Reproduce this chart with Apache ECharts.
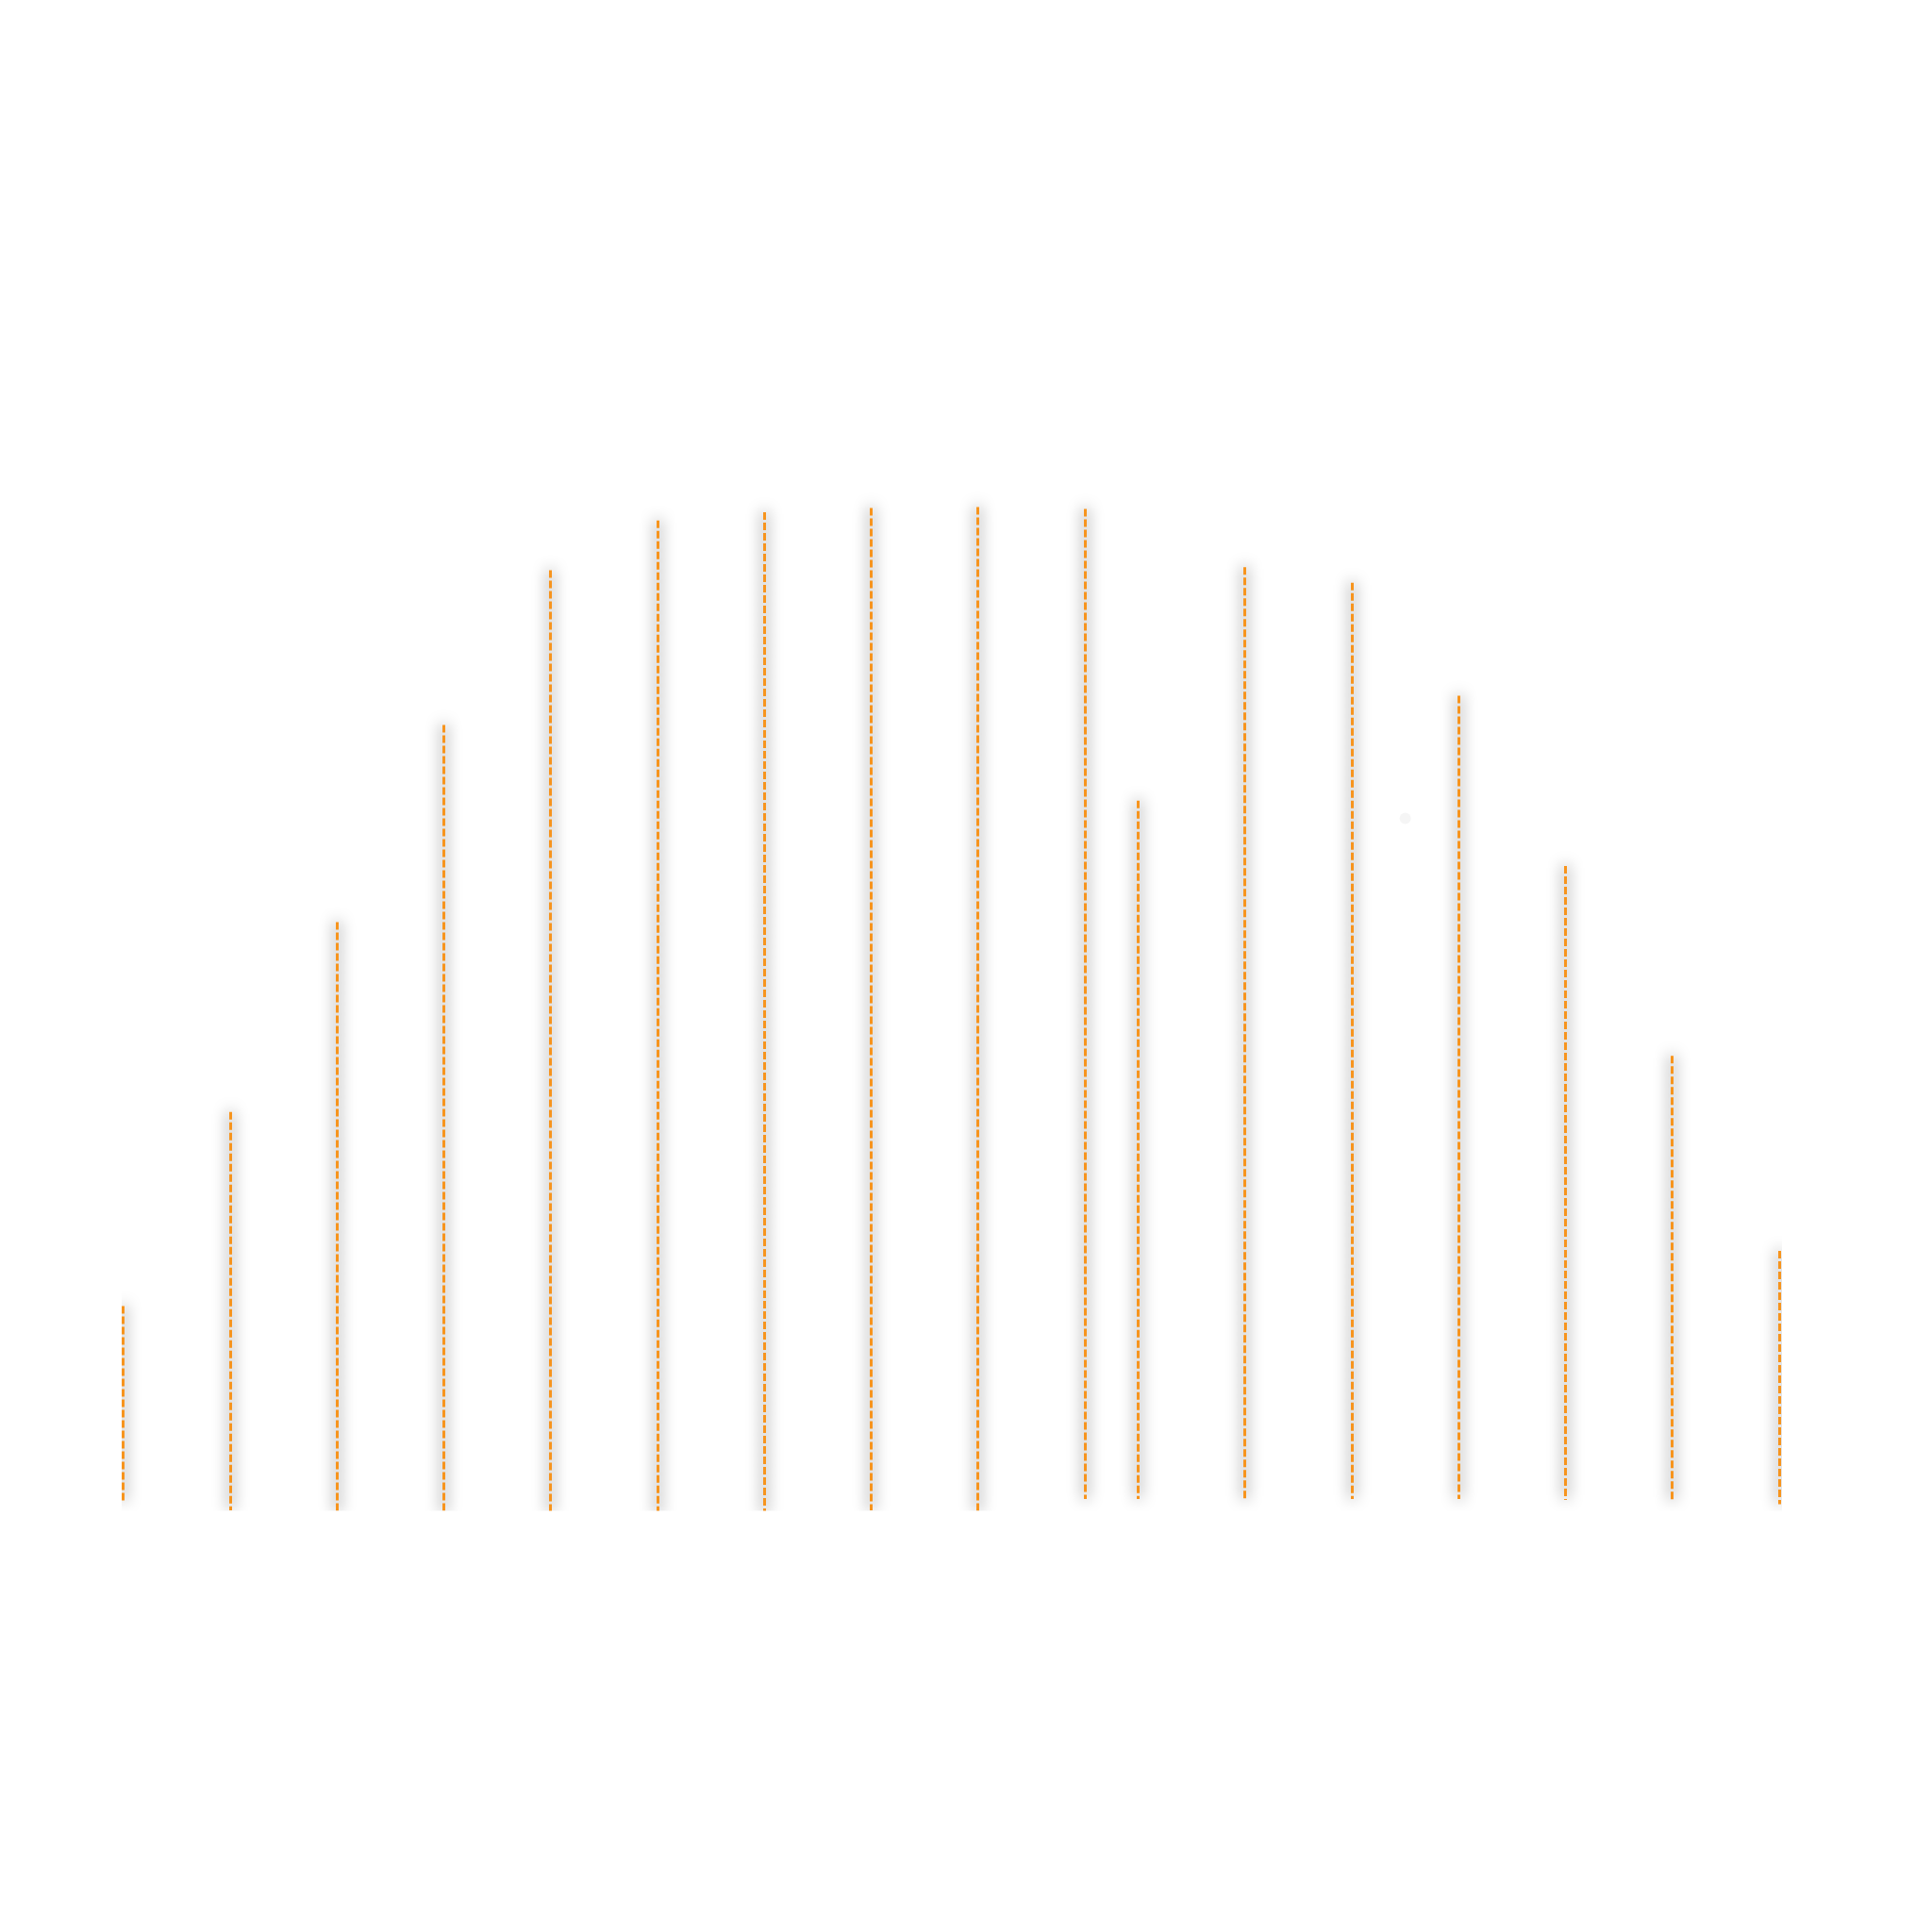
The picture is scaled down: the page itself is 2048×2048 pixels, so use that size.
<!DOCTYPE html>
<html lang="en">
<head>
    <meta charset="UTF-8">
    <title>Dashed lines</title>
    <script src="https://cdn.jsdelivr.net/npm/echarts@6/dist/echarts.min.js"></script>
    <style>
        html, body { margin: 0; padding: 0; background: #fff; }
    </style>
</head>
<body>
    <div id="main" style="width: 2048px;height:2048px;"></div>

    <script type="text/javascript">
        // positions on the x axis
        var xPos = [0, 1, 2, 3, 4, 5, 6, 7, 8, 9, 9.5, 10.5, 11.5, 12.5, 13.5, 14.5, 15.5];
        // top and bottom of every segment
        var yTop = [19.6, 38.3, 56.6, 75.6, 90.5, 95.3, 96.1, 96.5, 96.6, 96.4, 68.3, 90.8, 89.3, 78.4, 62.0, 43.7, 24.9];
        var yBottom = [0.6, -0.1, -0.3, -0.5, -0.5, -0.4, -0.4, -0.1, -0.2, 1.0, 1.0, 1.0, 1.0, 1.0, 0.9, 0.9, 0.5];
        // lone point (only its shadow shows)
        var dotX = [12];
        var dotY = [66.6];

        var segs = [];
        for (var i = 0; i < xPos.length; i++) {
            segs.push({ coords: [[xPos[i], yTop[i]], [xPos[i], yBottom[i]]] });
        }
        var dots = [];
        for (var j = 0; j < dotX.length; j++) {
            dots.push([dotX[j], dotY[j]]);
        }

        var myChart = echarts.init(document.getElementById('main'));
        myChart.setOption({
            animation: false,
            grid: { left: 130.6, right: 162, top: 280, bottom: 448 },
            xAxis: { type: 'value', min: 0, max: 15.5, show: false },
            yAxis: { type: 'value', min: 0, max: 120, show: false },
            series: [{
                type: 'lines',
                coordinateSystem: 'cartesian2d',
                data: segs,
                lineStyle: {
                    color: '#f7941d',
                    width: 3,
                    type: [8, 3],
                    opacity: 1,
                    shadowBlur: 16,
                    shadowColor: 'rgba(0,0,0,1)'
                }
            }, {
                type: 'scatter',
                data: dots,
                symbolSize: 12,
                itemStyle: {
                    color: 'rgba(0,0,0,0.05)',
                    shadowBlur: 14,
                    shadowColor: 'rgba(0,0,0,0.15)'
                }
            }]
        });
    </script>
</body>
</html>
